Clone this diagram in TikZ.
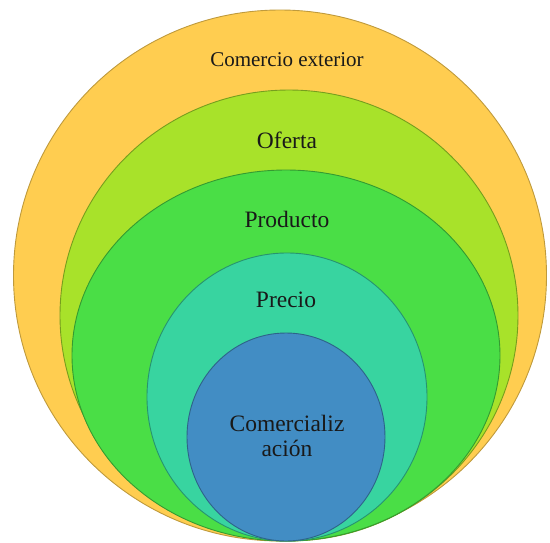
\documentclass[tikz,border=0pt]{standalone}
\usepackage{fontspec}
\setmainfont{Liberation Serif}
\usepackage{tikz}
\usetikzlibrary{positioning}
\definecolor{ringA}{RGB}{255,205,80}
\definecolor{ringB}{RGB}{168,226,42}
\definecolor{ringC}{RGB}{74,222,70}
\definecolor{ringD}{RGB}{56,212,160}
\definecolor{ringE}{RGB}{66,141,196}
\tikzset{ring/.style={line width=0.9pt}, lbl/.style={font=\fontsize{23.5}{25}\selectfont, text=black!90, inner sep=0pt}}

\begin{document}
\begin{tikzpicture}[x=1pt, y=-1pt]
\useasboundingbox (0,0) rectangle (550,542);
%% rings, from the outside in
  \filldraw[ring, fill=ringA, draw=ringA!75!black] (280,275.5) ellipse [x radius=266.5pt, y radius=265.5pt];
  \filldraw[ring, fill=ringB, draw=ringB!70!black] (289,315.5) ellipse [x radius=229pt, y radius=225.5pt];
  \filldraw[ring, fill=ringC, draw=ringC!70!black] (286,355.5) ellipse [x radius=214pt, y radius=185.5pt];
  \filldraw[ring, fill=ringD, draw=ringD!70!black] (287,397) ellipse [x radius=140pt, y radius=144pt];
  \filldraw[ring, fill=ringE, draw=ringE!70!black] (286,437) ellipse [x radius=99pt, y radius=104pt];
%% labels
	\node[lbl, font=\fontsize{21}{25}\selectfont] (ext) at (287, 60) {Comercio exterior};
	\node[lbl] (ofe) at (287, 140) {Oferta};
	\node[lbl] (pro) at (287, 219) {Producto};
	\node[lbl] (pre) at (286, 300) {Precio};
	\node[lbl, align=center] (com) at (287, 436) {Comercializ\\ación};
\end{tikzpicture}
\end{document}
